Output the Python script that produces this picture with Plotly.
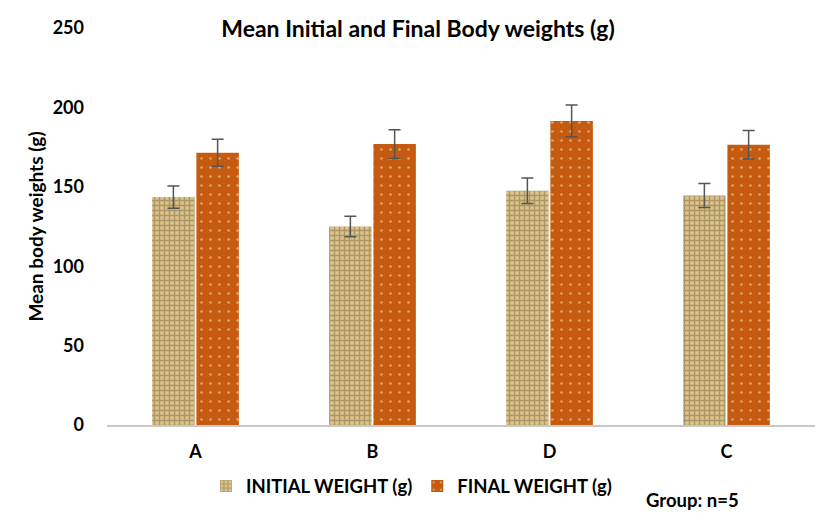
import plotly.graph_objects as go

groups = ["A", "B", "D", "C"]
initial = [143.5, 125, 147.5, 144.5]
initial_err = [7, 6.5, 8, 7.5]
final = [171.5, 177, 191.5, 176.5]
final_err = [8.5, 9, 10, 9]

FONT = "Lato"

fig = go.Figure()
fig.add_trace(go.Bar(
    x=groups, y=initial, name="<b>INITIAL WEIGHT (g)</b>",
    marker=dict(color="#d9c08a", line=dict(width=0),
                pattern=dict(shape="+", fgcolor="#7f683a", bgcolor="#dcc48e", size=5, solidity=0.5)),
    error_y=dict(type="data", array=initial_err, color="#555555", thickness=1.5, width=6),
))
fig.add_trace(go.Bar(
    x=groups, y=final, name="<b>FINAL WEIGHT (g)</b>",
    marker=dict(color="#c55a11", line=dict(width=0),
                pattern=dict(shape=".", fgcolor="#fbe6c4", bgcolor="#c55a11", size=9, solidity=0.07)),
    error_y=dict(type="data", array=final_err, color="#555555", thickness=1.5, width=6),
))

fig.update_layout(
    width=836, height=530,
    margin=dict(l=107, r=21, t=28, b=105),
    paper_bgcolor="white", plot_bgcolor="white",
    barmode="group", bargap=0.5, bargroupgap=0.04,
    font=dict(family=FONT, color="#000000"),
    title=dict(text="<b>Mean Initial and Final Body weights (g)</b>", x=0.5, xanchor="center",
               y=0.945, yanchor="middle", font=dict(size=23, family=FONT, color="#000")),
    xaxis=dict(showline=True, linecolor="#c8c8c8", linewidth=1.5, showgrid=False, ticks="",
               tickfont=dict(size=18, family=FONT, color="#000"), ticklabelstandoff=10,
               tickvals=groups, ticktext=["<b>%s</b>" % g for g in groups]),
    yaxis=dict(range=[0, 250], dtick=50, showgrid=False, showline=False, zeroline=False, ticks="",
               tickvals=[0, 50, 100, 150, 200, 250],
               ticktext=["<b>%d</b>" % v for v in [0, 50, 100, 150, 200, 250]],
               tickfont=dict(size=18, family=FONT, color="#000"), ticklabelstandoff=22,
               title=dict(text="<b>Mean body weights (g)</b>", font=dict(size=19, family=FONT, color="#000"),
                          standoff=4)),
    legend=dict(orientation="h", x=0.43, xanchor="center", y=-0.155, yanchor="middle",
                font=dict(size=18.5, family=FONT, color="#000"), itemwidth=30,
                traceorder="normal"),
    annotations=[dict(text="<b>Group: n=5</b>", xref="paper", yref="paper", x=0.827, y=-0.19,
                      xanchor="center", yanchor="middle", showarrow=False,
                      font=dict(size=18.5, family=FONT, color="#000"))],
)

fig.write_html("out.html")
